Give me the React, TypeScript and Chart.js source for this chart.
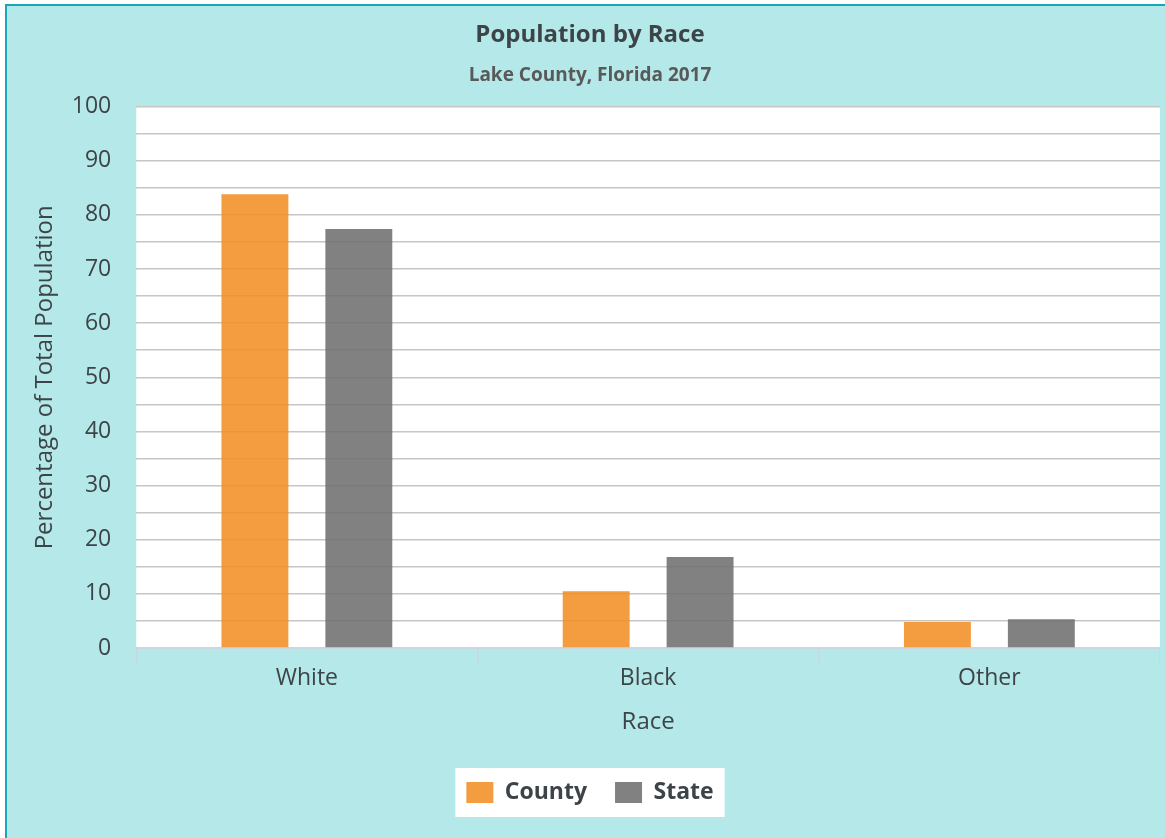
import React, { useEffect, useRef } from "react";
import { Chart, registerables } from "chart.js";

Chart.register(...registerables);

const categories = ["White", "Black", "Other"];
const countyValues = [83.8, 10.5, 4.8];
const stateValues = [77.4, 16.8, 5.3];
const seriesNames = ["County", "State"];
const yTickValues = [0, 10, 20, 30, 40, 50, 60, 70, 80, 90, 100];

const FONT = "'Open Sans', 'Noto Sans', sans-serif";
const TEXT = "#3d4448";

const bgPlugin = {
  id: "bgPlugin",
  beforeDraw(chart: any) {
    const { ctx, chartArea, legend } = chart;
    ctx.save();
    ctx.fillStyle = "#ffffff";
    ctx.fillRect(chartArea.left, chartArea.top, chartArea.right - chartArea.left, chartArea.bottom - chartArea.top);
    if (legend && legend.legendHitBoxes && legend.legendHitBoxes.length) {
      const boxes = legend.legendHitBoxes;
      let l = Infinity, r = -Infinity, t = Infinity, b = -Infinity;
      boxes.forEach((h: any) => {
        l = Math.min(l, h.left);
        r = Math.max(r, h.left + h.width);
        t = Math.min(t, h.top);
        b = Math.max(b, h.top + h.height);
      });
      const padX = 11, padY = 13;
      ctx.fillRect(l - padX, t - padY, r - l + padX * 2, b - t + padY * 2);
    }
    ctx.restore();
  },
};

export default function App() {
  const ref = useRef<HTMLCanvasElement | null>(null);
  useEffect(() => {
    if (!ref.current) return;
    const chart = new Chart(ref.current, {
      type: "bar",
      data: {
        labels: categories,
        datasets: [
          {
            label: seriesNames[0],
            data: countyValues,
            backgroundColor: "rgba(242,142,38,0.88)",
            borderWidth: 0,
          },
          {
            label: seriesNames[1],
            data: stateValues,
            backgroundColor: "rgba(112,112,112,0.88)",
            borderWidth: 0,
          },
        ],
      },
      options: {
        animation: false,
        responsive: false,
        devicePixelRatio: 1,
        datasets: { bar: { categoryPercentage: 0.609, barPercentage: 0.644 } },
        layout: { padding: { left: 15, right: 0, top: 0, bottom: 24 } },
        plugins: {
          title: {
            display: true,
            text: "Population by Race",
            color: TEXT,
            font: { family: FONT, size: 24, weight: "bold", lineHeight: 1.2 },
            padding: { top: 17, bottom: 14 },
          },
          subtitle: {
            display: true,
            text: "Lake County, Florida 2017",
            color: "#595959",
            font: { family: FONT, size: 19, weight: "bold", lineHeight: 1.2 },
            padding: { top: 0, bottom: 20 },
          },
          legend: {
            position: "bottom",
            labels: {
              boxWidth: 27,
              boxHeight: 21,
              padding: 28,
              color: TEXT,
              font: { family: FONT, size: 23, weight: "bold" },
            },
          },
          tooltip: { enabled: false },
        },
        scales: {
          x: {
            grid: {
              display: true,
              drawOnChartArea: false,
              drawTicks: true,
              tickLength: 16,
              color: "#ccd6de",
              lineWidth: 1.5,
              offset: true,
            },
            border: { display: true, color: "#ccd6de", width: 2 },
            ticks: {
              color: TEXT,
              padding: 1,
              font: { family: FONT, size: 23 },
            },
            title: {
              display: true,
              text: "Race",
              color: TEXT,
              font: { family: FONT, size: 24, lineHeight: 1.2 },
              padding: { top: 14, bottom: 16.6 },
            },
          },
          y: {
            min: 0,
            max: 100,
            grid: {
              color: "#c6c6c6",
              lineWidth: 1.5,
              drawTicks: false,
            },
            border: { display: false },
            ticks: {
              stepSize: 5,
              autoSkip: false,
              padding: 25,
              color: TEXT,
              font: { family: FONT, size: 23 },
              callback: (v: any) => (yTickValues.includes(Number(v)) ? String(v) : ""),
            },
            title: {
              display: true,
              text: "Percentage of Total Population",
              color: TEXT,
              font: { family: FONT, size: 24, lineHeight: 1.2 },
              padding: { top: 11, bottom: -13 },
            },
          },
        },
      },
      plugins: [bgPlugin],
    });
    return () => chart.destroy();
  }, []);

  return (
    <div style={{ position: "fixed", left: 0, top: 0, width: 1165, height: 838, overflow: "hidden", background: "#ffffff" }}>
      <div
        style={{
          position: "absolute",
          left: 5,
          top: 4,
          right: 0,
          bottom: 0,
          background: "#b5e8e8",
          borderTop: "2px solid #1aa7b5",
          borderLeft: "2px solid #1aa7b5",
        }}
      />
      <canvas ref={ref} width={1155} height={834} style={{ position: "absolute", left: 5, top: 4, width: 1155, height: 834 }} />
    </div>
  );
}
